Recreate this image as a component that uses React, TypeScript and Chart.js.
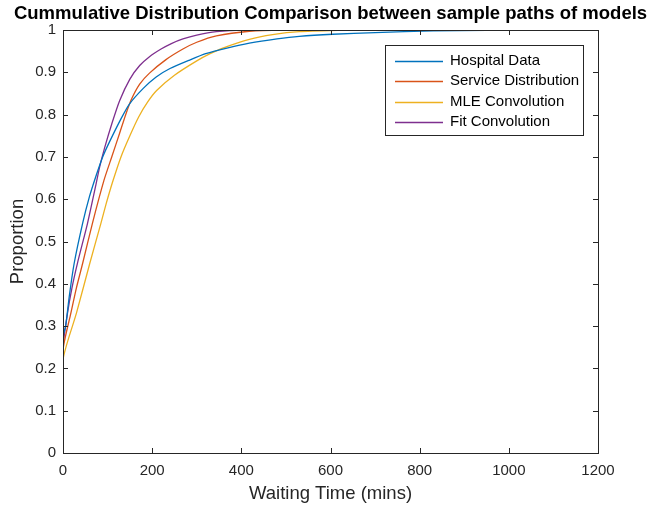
import React, { useEffect, useRef } from "react";
import { Chart, registerables } from "chart.js";

Chart.register(...registerables);

const chartTitle = "Cummulative Distribution Comparison between sample paths of models";
const xLabel = "Waiting Time (mins)";
const yLabel = "Proportion";

const seriesNames = ["Hospital Data", "Service Distribution", "MLE Convolution", "Fit Convolution"];
const seriesColors = ["#0072BD", "#D95319", "#EDB120", "#7E2F8E"];

const hospitalX = [0, 0, 6, 14, 25, 44, 59, 74, 89, 104, 130, 149, 180, 209, 240, 284, 320, 370, 418, 480, 530, 605, 700, 830, 950, 1100];
const hospitalY = [0, 0.275, 0.3, 0.37, 0.448, 0.543, 0.605, 0.655, 0.7, 0.735, 0.79, 0.825, 0.862, 0.889, 0.909, 0.929, 0.944, 0.958, 0.969, 0.979, 0.985, 0.99, 0.994, 0.998, 0.999, 1.0];

const serviceX = [0, 0, 17.5, 30, 44, 66, 92, 110, 127, 140, 153, 172, 194, 231, 269, 300, 344, 418, 493, 645];
const serviceY = [0, 0.243, 0.33, 0.39, 0.448, 0.543, 0.645, 0.702, 0.756, 0.798, 0.835, 0.872, 0.898, 0.93, 0.955, 0.971, 0.986, 0.997, 1.0, 1.0];

const mleX = [0, 0, 30, 60, 85, 97, 111, 130, 150, 170, 190, 210, 250, 300, 330, 360, 418, 470, 530, 645];
const mleY = [0, 0.22, 0.33, 0.448, 0.543, 0.59, 0.64, 0.7, 0.75, 0.795, 0.83, 0.857, 0.893, 0.927, 0.944, 0.958, 0.978, 0.989, 0.996, 1.0];

const fitX = [0, 0, 10, 20, 32.5, 55, 74, 82, 93, 110, 127, 150, 172, 194, 220, 243, 269, 300, 344, 407, 530];
const fitY = [0, 0.25, 0.33, 0.39, 0.449, 0.543, 0.635, 0.675, 0.72, 0.78, 0.833, 0.884, 0.916, 0.937, 0.955, 0.968, 0.979, 0.988, 0.996, 1.0, 1.0];

const xTicks = { min: 0, max: 1200, step: 200 };
const yTicks = { min: 0, max: 1, step: 0.1 };

const FONT = "'Liberation Sans', Arial, Helvetica, sans-serif";
const AXIS_COLOR = "#262626";

function toPoints(xs: number[], ys: number[]) {
  return xs.map((x, i) => ({ x, y: ys[i] }));
}

const decorPlugin = {
  id: "decor",
  afterDraw(chart: any) {
    const ctx = chart.ctx as CanvasRenderingContext2D;
    const { left, right, top, bottom } = chart.chartArea;
    const xs = chart.scales.x;
    const ys = chart.scales.y;
    ctx.save();
    ctx.strokeStyle = AXIS_COLOR;
    ctx.lineWidth = 1;
    ctx.strokeRect(Math.round(left) + 0.5, Math.round(top) + 0.5, Math.round(right - left), Math.round(bottom - top));
    const tl = 5;
    ctx.beginPath();
    xs.ticks.forEach((t: any) => {
      const px = Math.round(xs.getPixelForValue(t.value)) + 0.5;
      ctx.moveTo(px, bottom);
      ctx.lineTo(px, bottom - tl);
      ctx.moveTo(px, top);
      ctx.lineTo(px, top + tl);
    });
    ys.ticks.forEach((t: any) => {
      const py = Math.round(ys.getPixelForValue(t.value)) + 0.5;
      ctx.moveTo(left, py);
      ctx.lineTo(left + tl, py);
      ctx.moveTo(right, py);
      ctx.lineTo(right - tl, py);
    });
    ctx.stroke();

    ctx.fillStyle = "#000";
    ctx.font = `bold 18.5px ${FONT}`;
    ctx.textAlign = "center";
    ctx.textBaseline = "middle";
    ctx.fillText(chartTitle, (left + right) / 2, 14);

    ctx.fillStyle = AXIS_COLOR;
    ctx.font = `18.5px ${FONT}`;
    ctx.fillText(xLabel, (left + right) / 2, 494);
    ctx.save();
    ctx.translate(18, (top + bottom) / 2);
    ctx.rotate(-Math.PI / 2);
    ctx.fillText(yLabel, 0, 0);
    ctx.restore();

    const lx = 385, ly = 45, lw = 198, lh = 90;
    ctx.fillStyle = "#fff";
    ctx.fillRect(lx, ly, lw, lh);
    ctx.strokeStyle = AXIS_COLOR;
    ctx.lineWidth = 1;
    ctx.strokeRect(lx + 0.5, ly + 0.5, lw, lh);
    ctx.font = `15px ${FONT}`;
    ctx.textAlign = "left";
    ctx.textBaseline = "middle";
    chart.data.datasets.forEach((ds: any, i: number) => {
      const cy = 61 + i * 20.3;
      ctx.strokeStyle = ds.borderColor;
      ctx.lineWidth = 1.3;
      ctx.beginPath();
      ctx.moveTo(395, Math.round(cy) + 0.5);
      ctx.lineTo(443, Math.round(cy) + 0.5);
      ctx.stroke();
      ctx.fillStyle = "#000";
      ctx.fillText(ds.label, 450, cy);
    });
    ctx.restore();
  },
};

export default function App() {
  const ref = useRef<HTMLCanvasElement | null>(null);
  useEffect(() => {
    document.body.style.margin = "0";
    const canvas = ref.current!;
    const all = [
      toPoints(hospitalX, hospitalY),
      toPoints(serviceX, serviceY),
      toPoints(mleX, mleY),
      toPoints(fitX, fitY),
    ];
    const chart = new Chart(canvas, {
      type: "scatter",
      data: {
        datasets: all.map((pts, i) => ({
          label: seriesNames[i],
          data: pts,
          showLine: true,
          borderColor: seriesColors[i],
          backgroundColor: seriesColors[i],
          borderWidth: 1.3,
          pointRadius: 0,
          tension: 0.2,
        })),
      },
      options: {
        animation: false,
        responsive: false,
        devicePixelRatio: 1,
        layout: { padding: { left: 0, right: 53, top: 30, bottom: 0 } },
        plugins: { legend: { display: false }, tooltip: { enabled: false }, title: { display: false } },
        scales: {
          x: {
            type: "linear",
            min: xTicks.min,
            max: xTicks.max,
            grid: { display: false, drawTicks: false },
            border: { display: false },
            ticks: {
              stepSize: xTicks.step,
              color: AXIS_COLOR,
              font: { family: FONT, size: 15 },
              padding: 9,
              maxRotation: 0,
              callback: (v: any) => String(v),
            },
            afterFit: (s: any) => { s.height = 59; },
          },
          y: {
            type: "linear",
            min: yTicks.min,
            max: yTicks.max,
            grid: { display: false, drawTicks: false },
            border: { display: false },
            ticks: {
              stepSize: yTicks.step,
              color: AXIS_COLOR,
              font: { family: FONT, size: 15 },
              padding: 7,
              callback: (v: any) => String(Math.round(Number(v) * 10) / 10),
            },
            afterFit: (s: any) => { s.width = 63; },
          },
        },
      },
      plugins: [decorPlugin],
    });
    return () => chart.destroy();
  }, []);
  return <canvas ref={ref} width={651} height={512} style={{ display: "block" }} />;
}
